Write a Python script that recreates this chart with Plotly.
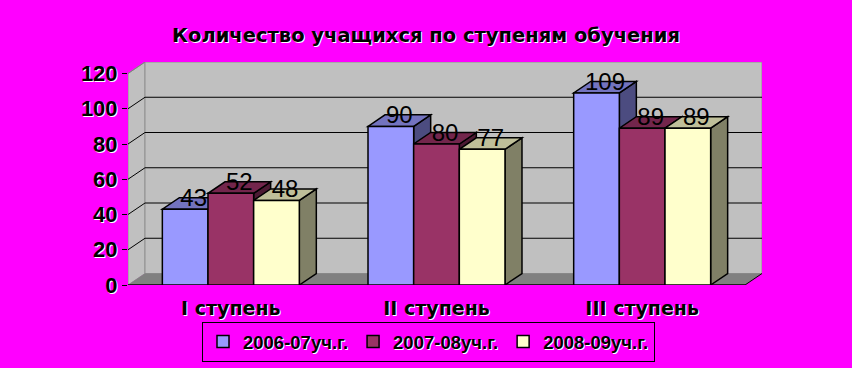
import plotly.graph_objects as go

# ---- data ----
categories = ["I ступень", "II ступень", "III ступень"]
series_names = ["2006-07уч.г.", "2007-08уч.г.", "2008-09уч.г."]
values_2006 = [43, 90, 109]
values_2007 = [52, 80, 89]
values_2008 = [48, 77, 89]
y_ticks = [0, 20, 40, 60, 80, 100, 120]

# ---- styling ----
colors = ["#9999FF", "#993366", "#FFFFCC"]
MAGENTA = "#FF00FF"
WALL = "#C0C0C0"
FLOOR = "#808080"

def shade(hex_color, f):
    h = hex_color.lstrip("#")
    r, g, b = (int(h[i:i + 2], 16) for i in (0, 2, 4))
    return "rgb(%d,%d,%d)" % (round(r * f), round(g * f), round(b * f))

# geometry (pixels -> data units)
W, H = 852, 368
L, R, T, B = 128, 90, 62, 83
n_cat = len(categories)
y_max = y_ticks[-1]
plot_w = W - L - R
plot_h = H - T - B
depth_px_x, depth_px_y = 17, 11.5
px_per_x = (plot_w - depth_px_x) / n_cat
dxu = depth_px_x / px_per_x
px_per_y = (plot_h - depth_px_y) / y_max
dyu = depth_px_y / px_per_y
x_range = [0, n_cat + dxu]
y_range = [0, y_max + dyu]

bargap = 0.334
group_w = 1 - bargap
all_series = [values_2006, values_2007, values_2008]
bar_w = group_w / len(all_series)
centers = [i + 0.5 for i in range(n_cat)]

shadow = "1px 1px 0px white"

fig = go.Figure()

# bar front faces
for name, vals, col in zip(series_names, all_series, colors):
    fig.add_trace(go.Bar(
        x=centers, y=vals, name=name,
        marker=dict(color=col, line=dict(color="black", width=1.5)),
    ))

shapes = []
def poly(pts, fill, line_color=None, lw=0, layer="below"):
    path = "M " + " L ".join("%f,%f" % p for p in pts) + " Z"
    shapes.append(dict(type="path", path=path, xref="x", yref="y",
                       fillcolor=fill, layer=layer,
                       line=dict(color=line_color or fill, width=lw)))

def seg(p0, p1, color="black", lw=1):
    shapes.append(dict(type="line", xref="x", yref="y", x0=p0[0], y0=p0[1],
                       x1=p1[0], y1=p1[1], layer="below",
                       line=dict(color=color, width=lw)))

# walls and floor
poly([(0, 0), (0, y_max), (dxu, y_max + dyu), (dxu, dyu)], WALL, "#909090", 1)
poly([(dxu, dyu), (dxu, y_max + dyu), (n_cat + dxu, y_max + dyu), (n_cat + dxu, dyu)],
     WALL, "#909090", 1)
poly([(0, 0), (dxu, dyu), (n_cat + dxu, dyu), (n_cat, 0)], FLOOR)
seg((0, 0), (n_cat, 0), "black", 1.5)
seg((n_cat, 0), (n_cat + dxu, dyu), "black", 1)

# gridlines on side and back walls
for v in y_ticks[1:-1]:
    seg((0, v), (dxu, v + dyu), "black", 1)
    seg((dxu, v + dyu), (n_cat + dxu, v + dyu), "black", 1)
seg((0, y_max), (dxu, y_max + dyu), "#808080", 1)

# 3D top and side faces of bars
for gi, xc in enumerate(centers):
    for si, vals in enumerate(all_series):
        v = vals[gi]
        x0 = xc - group_w / 2 + si * bar_w
        x1 = x0 + bar_w
        poly([(x1, 0), (x1, v), (x1 + dxu, v + dyu), (x1 + dxu, dyu)],
             shade(colors[si], 0.5), "black", 1.5)
        poly([(x0, v), (x1, v), (x1 + dxu, v + dyu), (x0 + dxu, v + dyu)],
             shade(colors[si], 0.75), "black", 1.5)

# data labels
lab_x, lab_y, lab_t = [], [], []
for gi, xc in enumerate(centers):
    for si, vals in enumerate(all_series):
        v = vals[gi]
        x0 = xc - group_w / 2 + si * bar_w
        lab_x.append(x0 + bar_w / 2 + dxu / 2)
        lab_y.append(v + dyu / 2 + 2)
        lab_t.append(str(v))
fig.add_trace(go.Scatter(
    x=lab_x, y=lab_y, text=lab_t, mode="text", showlegend=False,
    textposition="middle center", cliponaxis=False, hoverinfo="skip",
    textfont=dict(family="Arial", size=24, color="black"),
))

fig.update_layout(
    width=W, height=H,
    margin=dict(l=L, r=R, t=T, b=B, pad=0, autoexpand=False),
    paper_bgcolor=MAGENTA, plot_bgcolor=MAGENTA,
    barmode="group", bargap=bargap, bargroupgap=0,
    shapes=shapes,
    title=dict(text="<b>Количество учащихся по ступеням обучения</b>",
               x=0.5, xref="container", xanchor="center",
               y=1 - 35 / H, yref="container", yanchor="middle",
               font=dict(family="DejaVu Sans", size=19.5, color="black", shadow=shadow)),
    xaxis=dict(range=x_range, tickvals=centers, ticktext=categories,
               showgrid=False, zeroline=False, showline=False, ticks="",
               ticklabelstandoff=10, automargin=False,
               tickfont=dict(family="DejaVu Sans", size=19, color="black",
                             weight="bold", shadow=shadow),
               fixedrange=True),
    yaxis=dict(range=y_range, tickvals=y_ticks, showgrid=False, zeroline=False,
               showline=False, ticks="outside", ticklen=5, tickcolor="black",
               automargin=False,
               tickfont=dict(family="Arial", size=22, color="black",
                             weight="bold", shadow=shadow),
               fixedrange=True),
    legend=dict(orientation="h", x=428.5 / W, xref="container", xanchor="center",
                y=1 - 322 / H, yref="container", yanchor="top",
                bgcolor=MAGENTA, bordercolor="black", borderwidth=1,
                font=dict(family="Arial", size=18.5, color="black",
                          weight="bold", shadow=shadow)),
    showlegend=True,
)

fig.write_html("out.html")
